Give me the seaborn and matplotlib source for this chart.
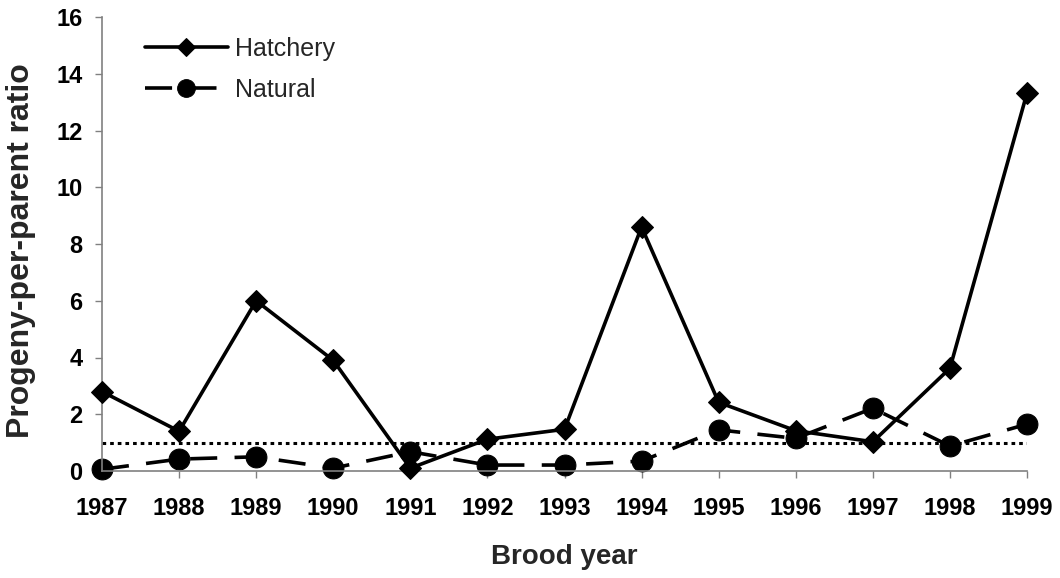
import matplotlib
matplotlib.use("Agg")
import matplotlib.pyplot as plt
import seaborn as sns
import pandas as pd

years = [1987, 1988, 1989, 1990, 1991, 1992, 1993, 1994, 1995, 1996, 1997, 1998, 1999]
hatchery = [2.8, 1.4, 6.0, 3.9, 0.1, 1.12, 1.47, 8.6, 2.42, 1.42, 1.03, 3.62, 13.32]
natural = [0.06, 0.42, 0.5, 0.1, 0.68, 0.21, 0.21, 0.35, 1.45, 1.15, 2.21, 0.88, 1.65]
replacement = 1.0
yticks = [0, 2, 4, 6, 8, 10, 12, 14, 16]

sns.set_theme(style="white")
plt.rcParams['font.family'] = ['Liberation Sans', 'DejaVu Sans']

fig = plt.figure(figsize=(10.6, 5.78), dpi=100)
ax = fig.add_axes([102/1060, 1 - 471/578, (1027-102)/1060, (471-17)/578])

df = pd.DataFrame({"year": years, "Hatchery": hatchery, "Natural": natural})

ax.axhline(replacement, color="black", lw=2.2, linestyle=(0, (1.2, 1.3)), zorder=1)

sns.lineplot(data=df, x="year", y="Hatchery", ax=ax, color="black", lw=2.6,
             marker="D", markersize=11, markeredgecolor="black", linestyle="-",
             label="Hatchery", clip_on=False, zorder=3)
sns.lineplot(data=df, x="year", y="Natural", ax=ax, color="black", lw=2.6,
             marker="o", markersize=15, markeredgecolor="black", linestyle=(0, (7.5, 4.8)),
             label="Natural", clip_on=False, zorder=2)

ax.set_xlim(1987, 1999)
ax.set_ylim(0, 16)
ax.set_xticks(years)
ax.set_xticklabels([str(y) for y in years], fontsize=17, fontweight="bold")
ax.set_yticks(yticks)
ax.set_yticklabels([str(t) for t in yticks], fontsize=17, fontweight="bold")

for s in ["top", "right"]:
    ax.spines[s].set_visible(False)
for s in ["left", "bottom"]:
    ax.spines[s].set_color("#808080")
    ax.spines[s].set_linewidth(1.2)

ax.tick_params(axis="both", direction="out", length=5, width=1, color="#808080",
               colors="black", left=True, bottom=True)
ax.tick_params(axis="x", pad=14)
ax.tick_params(axis="y", pad=9)

ax.set_xlabel("Brood year", fontsize=20, fontweight="bold", labelpad=17)
ax.set_ylabel("Progeny-per-parent ratio", fontsize=23, fontweight="bold")
ax.yaxis.set_label_coords((36 - 102) / 925, (471 - 251) / 454)

ax.legend(loc="upper left", bbox_to_anchor=(145/1060, 1 - 37/578),
          bbox_transform=fig.transFigure, frameon=False, fontsize=18,
          handlelength=3.3, handletextpad=0.3, labelspacing=0.68,
          borderpad=0, borderaxespad=0, markerscale=0.85, numpoints=1)

fig.savefig("out.png", dpi=100)
